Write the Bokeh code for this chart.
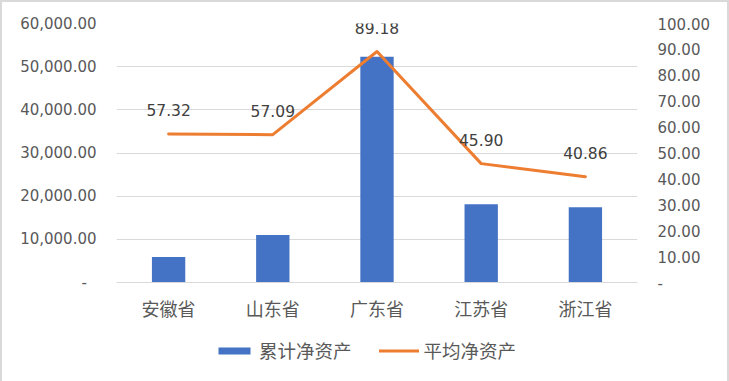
import numpy as np
from bokeh.plotting import figure
from bokeh.layouts import column
from bokeh.models import (Range1d, LinearAxis, FixedTicker, CustomJSTickFormatter,
                          Legend, LegendItem, ColumnDataSource)
from bokeh.core.properties import value
from bokeh.embed import file_html
from bokeh.resources import INLINE

provinces = ["安徽省", "山东省", "广东省", "江苏省", "浙江省"]
total_net_assets = [5900, 11000, 52300, 18150, 17450]
avg_net_assets = [57.32, 57.09, 89.18, 45.90, 40.86]
avg_labels = ["57.32", "57.09", "89.18", "45.90", "40.86"]
left_ticks = [0, 10000, 20000, 30000, 40000, 50000, 60000]
right_ticks = [0, 10, 20, 30, 40, 50, 60, 70, 80, 90, 100]
series_names = ["累计净资产", "平均净资产"]

BLUE = "#4472C4"
ORANGE = "#ED7D31"
GRID = "#D9D9D9"
AXIS_TXT = "#595959"
NUM_FONT = "DejaVu Sans"
CJK_FONT = "Noto Sans CJK SC"

src = ColumnDataSource(dict(prov=provinces, total=total_net_assets,
                            avg=avg_net_assets, lab=avg_labels))

p = figure(x_range=provinces, y_range=Range1d(0, 60000),
           frame_width=521, frame_height=259,
           output_backend="svg", toolbar_location=None,
           min_border_left=114, min_border_right=90, min_border_top=21,
           min_border_bottom=38)
p.outline_line_color = None
p.background_fill_color = "white"
p.border_fill_color = "white"

p.extra_y_ranges = {"right": Range1d(0, 100)}

bars = p.vbar(x="prov", top="total", width=0.32, source=src,
              fill_color=BLUE, line_color=None)
line = p.line(x="prov", y="avg", source=src, y_range_name="right",
              line_color=ORANGE, line_width=3, line_join="round", line_cap="round")
p.text(x="prov", y="avg", text="lab", source=src, y_range_name="right",
       y_offset=-24, text_align="center", text_baseline="middle",
       text_font=value(NUM_FONT), text_font_size="15.5px", text_color="#404040")

# grid
p.xgrid.grid_line_color = None
p.ygrid.grid_line_color = GRID
p.ygrid.grid_line_width = 1

# left axis
la = p.yaxis[0]
la.ticker = FixedTicker(ticks=left_ticks)
la.formatter = CustomJSTickFormatter(code="""
if (tick == 0) { return "-\u00a0\u00a0"; }
return tick.toLocaleString('en-US', {minimumFractionDigits: 2, maximumFractionDigits: 2});
""")
la.axis_line_color = None
la.major_tick_line_color = None
la.minor_tick_line_color = None
la.major_label_standoff = 14
la.major_label_text_font = NUM_FONT
la.major_label_text_font_size = "15px"
la.major_label_text_color = AXIS_TXT

# right axis
ra = LinearAxis(y_range_name="right", ticker=FixedTicker(ticks=right_ticks))
ra.formatter = CustomJSTickFormatter(code="""
if (tick == 0) { return "-"; }
return tick.toFixed(2);
""")
ra.axis_line_color = None
ra.major_tick_line_color = None
ra.minor_tick_line_color = None
ra.major_label_standoff = 14
ra.major_label_text_font = NUM_FONT
ra.major_label_text_font_size = "15px"
ra.major_label_text_color = AXIS_TXT
p.add_layout(ra, "right")

# x axis
xa = p.xaxis[0]
xa.axis_line_color = GRID
xa.axis_line_width = 1
xa.major_tick_line_color = None
xa.minor_tick_line_color = None
xa.major_label_standoff = 6
xa.major_label_text_font = CJK_FONT
xa.major_label_text_font_size = "18px"
xa.major_label_text_color = AXIS_TXT

# legend strip (separate figure below the chart); its renderers hold no drawable data
lf = figure(width=725, height=59, x_range=Range1d(0, 1), y_range=Range1d(0, 1),
            output_backend="svg", toolbar_location=None,
            min_border_left=0, min_border_right=0, min_border_top=0,
            min_border_bottom=0)
lf.axis.visible = False
lf.grid.grid_line_color = None
lf.outline_line_color = None
lf.border_fill_color = "white"
nan_src = ColumnDataSource(dict(x=[np.nan], y=[np.nan]))
lg_bar = lf.vbar(x="x", top="y", width=0.3, source=nan_src,
                 fill_color=BLUE, line_color=None)
lg_line = lf.line(x="x", y="y", source=nan_src, line_color=ORANGE,
                  line_width=3, line_cap="round")

legend = Legend(items=[LegendItem(label=series_names[0], renderers=[lg_bar]),
                       LegendItem(label=series_names[1], renderers=[lg_line])],
                orientation="horizontal", location=(98, 19),
                padding=0, margin=0, spacing=27, label_standoff=5,
                glyph_width=40, glyph_height=9, label_height=20,
                border_line_color=None, background_fill_alpha=0,
                label_text_font=CJK_FONT, label_text_font_size="18.5px",
                label_text_color=AXIS_TXT)
lf.add_layout(legend, "center")

layout = column(p, lf, spacing=0, styles={"border": "2px solid #D9D9D9"})

open("out.html", "w").write(file_html(layout, INLINE))
